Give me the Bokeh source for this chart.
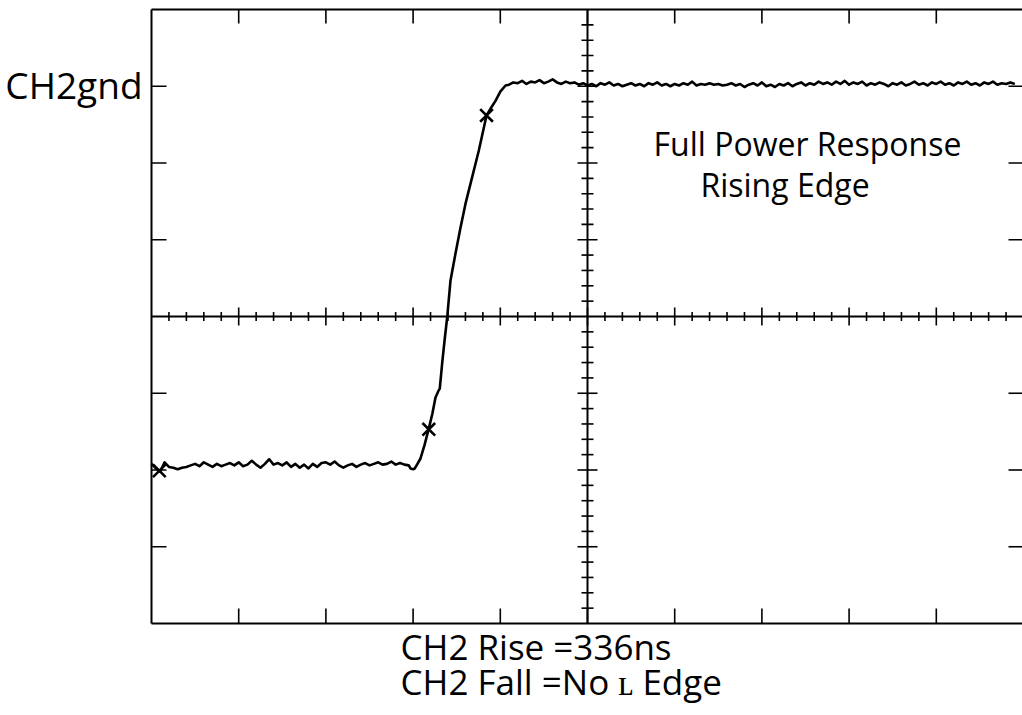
import numpy as np
from bokeh.plotting import figure
from bokeh.models import Range1d, Label
from bokeh.embed import file_html
from bokeh.resources import INLINE

# ---- trace values, in screen divisions (x: 0..10, y: -4..4) ----
# low level, samples every 0.05 div from 0.00
low_y = [-1.92, -1.98, -2.02, -1.90, -1.96, -1.97, -1.99, -1.97, -1.96, -1.94,
         -1.92, -1.95, -1.90, -1.93, -1.96, -1.92, -1.95, -1.93, -1.91, -1.94,
         -1.90, -1.95, -1.93, -1.88, -1.93, -1.97, -1.92, -1.86, -1.93, -1.91,
         -1.94, -1.90, -1.96, -1.92, -1.97, -1.93, -1.98, -1.92, -1.96, -1.91,
         -1.90, -1.93, -1.89, -1.94, -1.97, -1.94, -1.92, -1.96, -1.93, -1.91,
         -1.94, -1.92, -1.90, -1.93, -1.92, -1.89, -1.93, -1.91, -1.93, -1.94]
# rising edge
edge_x = [2.97, 3.00, 3.02, 3.05, 3.085, 3.13, 3.18, 3.22, 3.257, 3.29, 3.306,
          3.334, 3.36, 3.391, 3.429, 3.486, 3.544, 3.601, 3.678, 3.753, 3.842,
          3.90, 3.945, 4.00, 4.06]
edge_y = [-1.98, -1.99, -1.98, -1.92, -1.85, -1.68, -1.46, -1.27, -1.055, -0.97, -0.94,
          -0.60, -0.32, -0.01, 0.47, 0.82, 1.16, 1.47, 1.82, 2.16, 2.62,
          2.73, 2.81, 2.93, 3.01]
# high level, samples every 0.05 div from 4.10
high_y = [3.02, 3.05, 3.04, 3.07, 3.03, 3.06, 3.05, 3.08, 3.04, 3.06,
          3.09, 3.05, 3.03, 3.06, 3.04, 3.05, 3.02, 3.04, 3.01, 3.03,
          3.00, 3.04, 3.02, 3.05, 3.01, 3.03, 3.00, 3.02, 3.04, 3.01,
          3.03, 3.00, 3.04, 3.02, 3.05, 3.01, 3.03, 3.00, 3.03, 3.01,
          3.04, 3.02, 3.06, 3.01, 3.03, 3.02, 3.04, 3.02, 3.03, 3.01,
          3.02, 3.04, 3.01, 3.03, 2.99, 3.02, 3.04, 3.01, 3.05, 3.00,
          3.02, 2.99, 3.03, 3.01, 3.04, 3.00, 3.03, 3.05, 3.01, 3.04,
          3.02, 3.06, 3.03, 3.05, 3.02, 3.06, 3.03, 3.07, 3.02, 3.05,
          3.03, 3.06, 3.01, 3.04, 3.02, 3.05, 3.03, 3.00, 3.04, 3.02,
          3.05, 3.01, 3.03, 3.06, 3.02, 3.04, 3.01, 3.05, 3.03, 3.06,
          3.02, 3.04, 3.01, 3.05, 3.03, 3.06, 3.02, 3.04, 3.01, 3.05,
          3.03, 3.06, 3.02, 3.04, 3.03, 3.05, 3.03]
# cursor markers
marker_x = [0.09, 3.18, 3.842]
marker_y = [-2.01, -1.47, 2.62]

low_x = [round(0.05 * i, 3) for i in range(len(low_y))]
high_x = [round(4.10 + 0.05 * i, 3) for i in range(len(high_y))]
trace_x = low_x + edge_x + high_x
trace_y = low_y + edge_y + high_y

# texts
gnd_label = "CH2gnd"
title_lines = ["Full Power Response", "Rising Edge"]
meas_lines = ["CH2 Rise =336ns", "CH2 Fall =No \u029f Edge"]

# ---- figure: the frame fills the whole canvas ----
W, H = 1022, 714
GX0, GY0 = 151.0, 316.0   # canvas px of graticule left edge / centre line
XS, YS = 87.2, 76.75      # px per division

p = figure(width=W, height=H, output_backend="svg", toolbar_location=None,
           x_range=Range1d(-GX0 / XS, (W - GX0) / XS),
           y_range=Range1d((GY0 - H) / YS, GY0 / YS),
           x_axis_type=None, y_axis_type=None,
           min_border=0, min_border_left=0, min_border_right=0,
           min_border_top=0, min_border_bottom=0)
p.grid.visible = False
p.outline_line_color = None
p.background_fill_color = "white"
p.border_fill_color = "white"

# graticule ticks
x0, y0, x1, y1 = [], [], [], []
def seg(a, b, c, d):
    x0.append(a); y0.append(b); x1.append(c); y1.append(d)

for i in range(1, 10):
    seg(i, 4, i, 4 - 14 / YS)
    seg(i, -4, i, -4 + 15 / YS)
for j in [-3, -2, -1, 1, 2, 3]:
    seg(0, j, 15 / XS, j)
    seg(10, j, 10 - 15 / XS, j)
for k in range(1, 50):
    x = k * 0.2
    h = (9 if k % 5 == 0 else 4.5) / YS
    seg(x, -h, x, h)
for k in range(-19, 20):
    if k == 0:
        continue
    y = k * 0.2
    h = (10 if k % 5 == 0 else 6) / XS
    seg(5 - h, y, 5 + h, y)
p.segment(x0, y0, x1, y1, line_color="black", line_width=1.6)
# border box and centre cross
p.segment([0, 0, 0, 10, 0, 5], [-4, 4, -4, -4, 0, -4],
          [0, 10, 10, 10, 10, 5], [4, 4, -4, 4, 0, 4],
          line_color="black", line_width=2)

# trace
p.line(trace_x, trace_y, line_color="black", line_width=2.6, line_join="round")
p.scatter(marker_x, marker_y, marker="x", size=18, line_color="black", line_width=2.6)

FONT = "Open Sans"
def lab(x, y, t, size, align):
    p.add_layout(Label(x=x, y=y, text=t, text_align=align,
                       text_baseline="alphabetic", text_font=FONT,
                       text_font_size=size, text_color="black"))

lab(-0.103, 3.02, gnd_label, "37px", "right")
lab(7.523, 2.254, title_lines[0], "32px", "center")
lab(7.265, 1.72, title_lines[1], "32px", "center")
lab(2.856, -4.30, meas_lines[0], "35px", "left")
lab(2.856, -4.756, meas_lines[1], "35px", "left")

open("out.html", "w").write(file_html(p, INLINE))
